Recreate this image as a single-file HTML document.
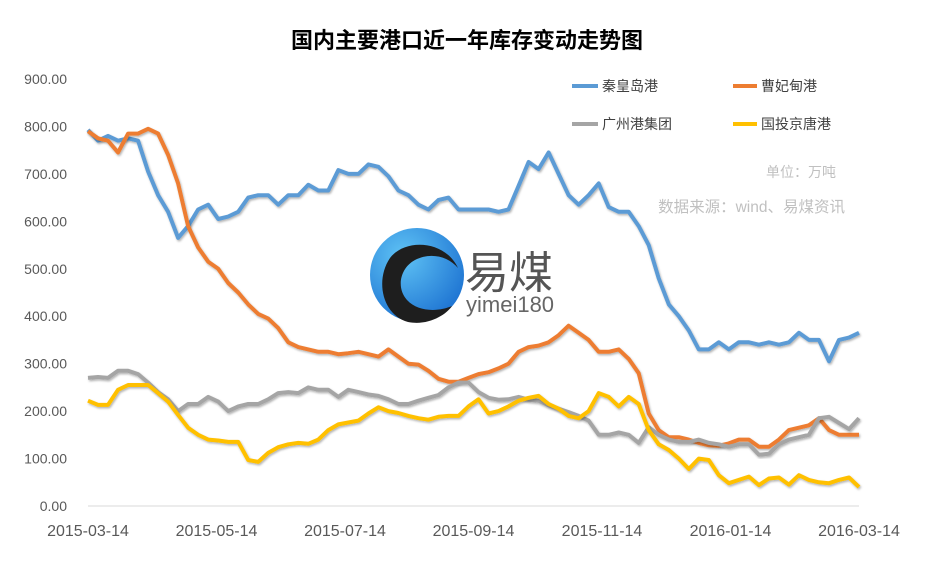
<!DOCTYPE html>
<html><head><meta charset="utf-8">
<style>
body{margin:0;background:#fff;}
svg{display:block;font-family:"Liberation Sans","Noto Sans CJK SC",sans-serif;}
</style></head>
<body>
<svg id="chart" width="934" height="564" viewBox="0 0 934 564">
<defs>
<radialGradient id="lg" cx="0.35" cy="0.3" r="0.8"><stop offset="0" stop-color="#5fc3f5"/><stop offset="1" stop-color="#1a6fd0"/></radialGradient>
<filter id="sh" x="-5%" y="-5%" width="110%" height="110%"><feDropShadow dx="1" dy="1.5" stdDeviation="1" flood-color="#000" flood-opacity="0.3"/></filter>
</defs>
<text x="467" y="48" text-anchor="middle" font-size="22" font-weight="bold" fill="#000">国内主要港口近一年库存变动走势图</text>
<g id="yaxis"></g>
<g id="xaxis"></g>
<g>
<circle cx="417" cy="275" r="47" fill="url(#lg)"/>
<path d="M458 268 C445 240 405 238 390 258 C375 280 382 315 408 322 C428 326 446 315 452 306 C438 312 418 312 407 300 C396 288 400 268 415 260 C430 252 448 256 458 268 Z" fill="#1e1e1e"/>
<text x="465" y="288" font-size="44" fill="#555">易煤</text>
<text x="466" y="312" font-size="22" fill="#666">yimei180</text>
</g>
<g id="series"></g>
<g>
<g><line x1="572" y1="86" x2="598" y2="86" stroke="#5B9BD5" stroke-width="4"/><text x="602" y="91" font-size="14" fill="#404040">秦皇岛港</text></g>
<g><line x1="733" y1="86" x2="757" y2="86" stroke="#ED7D31" stroke-width="4"/><text x="761" y="91" font-size="14" fill="#404040">曹妃甸港</text></g>
<g><line x1="572" y1="124" x2="598" y2="124" stroke="#A5A5A5" stroke-width="4"/><text x="602" y="129" font-size="14" fill="#404040">广州港集团</text></g>
<g><line x1="733" y1="124" x2="757" y2="124" stroke="#FFC000" stroke-width="4"/><text x="761" y="129" font-size="14" fill="#404040">国投京唐港</text></g>
</g>
<text x="836" y="177" text-anchor="end" font-size="14" fill="#c0c0c0">单位：万吨</text>
<text x="845" y="212" text-anchor="end" font-size="15.5" fill="#c0c0c0">数据来源：wind、易煤资讯</text>
</svg>
<script>
const yTicks=[0,100,200,300,400,500,600,700,800,900];
const xLabels=["2015-03-14","2015-05-14","2015-07-14","2015-09-14","2015-11-14","2016-01-14","2016-03-14"];
const qinhuangdao=[793,770,780,770,775,770,705,655,620,565,590,625,635,605,610,620,650,655,655,635,655,655,677,665,665,708,700,700,720,715,695,665,655,635,625,645,650,625,625,625,625,620,625,675,725,710,745,700,655,635,655,680,630,620,620,590,550,480,425,400,370,330,330,345,330,345,345,340,345,340,345,365,350,350,305,350,355,365];
const caofeidian=[790,775,770,745,785,785,795,785,740,680,590,545,515,500,470,450,425,405,395,375,345,335,330,325,325,320,322,325,320,315,330,315,300,298,285,268,262,262,270,278,282,290,300,325,335,338,345,360,380,365,350,325,325,330,310,280,195,160,145,145,140,133,128,127,132,140,140,125,125,140,160,165,170,185,160,150,150,150];
const guangzhou=[270,272,270,285,285,278,260,240,225,200,215,215,230,220,200,210,215,215,225,238,240,238,250,245,245,230,245,240,235,232,225,215,215,222,228,234,250,260,260,240,228,224,225,230,224,222,212,205,198,190,180,150,150,155,150,133,166,150,140,135,135,140,133,130,125,130,130,108,110,130,140,145,150,185,188,175,162,185];
const jingtang=[222,213,213,245,255,255,255,238,220,192,165,150,140,138,135,135,97,93,112,124,130,133,131,140,160,172,176,180,195,208,200,196,190,185,182,188,190,190,210,225,195,200,210,222,228,232,215,205,190,185,200,238,230,210,230,215,160,130,118,100,78,100,97,65,48,55,62,44,58,60,45,65,55,50,48,55,60,40];
const X0=88,X1=859,Y0=506,YTOP=79;
const yScale=v=>Y0-(v/900)*(Y0-YTOP);
const xIdx=(i,n)=>X0+(X1-X0)*i/(n-1);
const NS="http://www.w3.org/2000/svg";
const ya=document.getElementById('yaxis');
yTicks.forEach(t=>{
  const tx=document.createElementNS(NS,'text');
  
  
  tx.setAttribute('x',67);tx.setAttribute('y',yScale(t)+5);
  tx.setAttribute('text-anchor','end');tx.setAttribute('font-size','14');tx.setAttribute('fill','#595959');
  tx.textContent=t.toFixed(2);ya.appendChild(tx);
});
const xa=document.getElementById('xaxis');
const ax=document.createElementNS(NS,'line');


ax.setAttribute('x1',X0);ax.setAttribute('x2',X1);ax.setAttribute('y1',Y0);ax.setAttribute('y2',Y0);
ax.setAttribute('stroke','#d9d9d9');ax.setAttribute('stroke-width','1');xa.appendChild(ax);
xLabels.forEach((l,i)=>{
  const tx=document.createElementNS(NS,'text');
  
  
  tx.setAttribute('x',xIdx(i,xLabels.length));tx.setAttribute('y',536);
  tx.setAttribute('text-anchor','middle');tx.setAttribute('font-size','16');tx.setAttribute('fill','#595959');
  tx.textContent=l;xa.appendChild(tx);
});
const sg=document.getElementById('series');
[[qinhuangdao,'#5B9BD5','line-qinhuangdao'],[caofeidian,'#ED7D31','line-caofeidian'],[guangzhou,'#A5A5A5','line-guangzhou'],[jingtang,'#FFC000','line-guotou-jingtang']].forEach(([d,c,n])=>{
  const p=document.createElementNS(NS,'path');
  
  
  p.setAttribute('d',d.map((v,i)=>(i?'L':'M')+xIdx(i,d.length).toFixed(1)+' '+yScale(v).toFixed(1)).join(' '));
  p.setAttribute('fill','none');p.setAttribute('stroke',c);p.setAttribute('stroke-width','4');
  p.setAttribute('stroke-linejoin','round');p.setAttribute('filter','url(#sh)');
  sg.appendChild(p);
});
</script>
</body></html>
